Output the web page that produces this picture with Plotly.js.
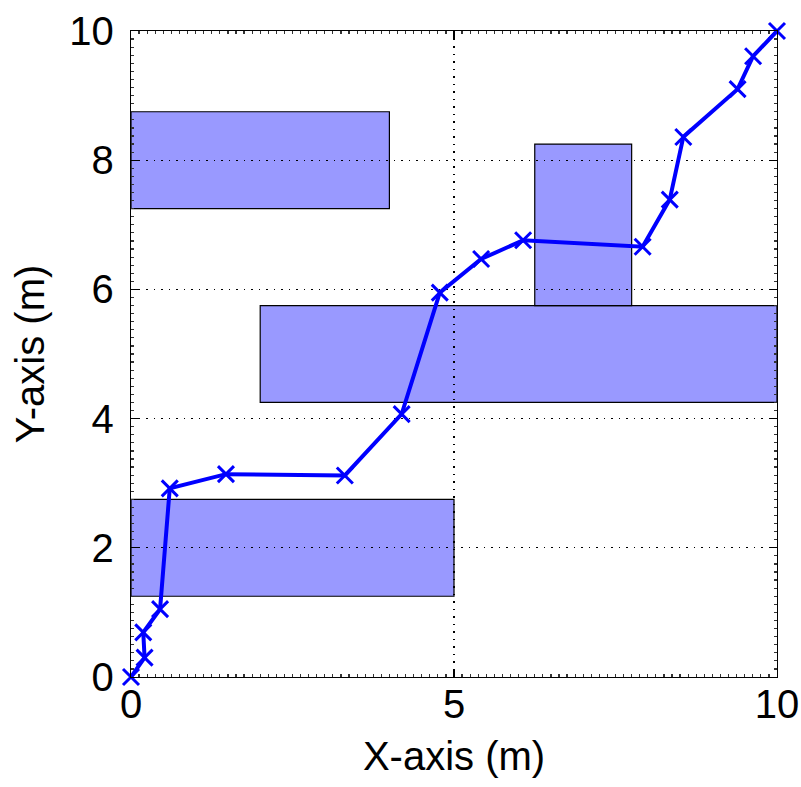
<!DOCTYPE html>
<html>
<head>
<meta charset="utf-8">
<script src="https://cdn.plot.ly/plotly-3.0.1.min.js"></script>
<style>html,body{margin:0;padding:0;background:#fff;}#chart{width:801px;height:787px;}</style>
</head>
<body>
<div id="chart"></div>
<script>
// Path waypoints
var pathX = [0, 0.21, 0.19, 0.45, 0.60, 1.47, 3.31, 4.19, 4.78, 5.42, 6.07, 7.92, 8.34, 8.55, 9.39, 9.63, 10];
var pathY = [0, 0.30, 0.69, 1.05, 2.92, 3.14, 3.12, 4.07, 5.95, 6.47, 6.76, 6.66, 7.39, 8.36, 9.10, 9.61, 10];

// Obstacles (rectangles)
var obsX0 = [0, 2, 6.25, 0];
var obsX1 = [4, 10, 7.75, 5];
var obsY0 = [7.25, 4.25, 5.75, 1.25];
var obsY1 = [8.75, 5.75, 8.25, 2.75];

// Tick values
var tickX = [0, 5, 10];
var tickY = [0, 2, 4, 6, 8, 10];

var shapes = obsX0.map(function (x0, i) {
  return {
    type: 'rect', xref: 'x', yref: 'y', layer: 'below',
    x0: x0, x1: obsX1[i], y0: obsY0[i], y1: obsY1[i],
    fillcolor: '#9999FF', line: {color: '#000000', width: 1.2}
  };
});

var trace = {
  x: pathX, y: pathY, type: 'scatter', mode: 'lines+markers',
  line: {color: '#0000FF', width: 4},
  marker: {symbol: 'x-thin', size: 16, color: '#0000FF', line: {color: '#0000FF', width: 3}},
  cliponaxis: false, showlegend: false, hoverinfo: 'none'
};

var fontFam = 'Liberation Sans, Arial, sans-serif';
var axisCommon = {
  showline: true, linecolor: '#000', linewidth: 1.2, mirror: 'all',
  ticks: 'inside', ticklen: 8, tickcolor: '#000', tickwidth: 1.2,
  showgrid: true, gridcolor: '#000', gridwidth: 1.2, griddash: '1.5px,6px',
  zeroline: false,
  minor: {ticks: 'inside', ticklen: 3, tickcolor: '#333', dtick: 0.125, showgrid: false},
  tickfont: {family: fontFam, size: 40, color: '#000'},
  fixedrange: true
};

var layout = {
  width: 801, height: 787,
  margin: {l: 131, r: 24, t: 31, b: 110},
  paper_bgcolor: '#fff', plot_bgcolor: '#fff',
  showlegend: false,
  shapes: shapes,
  xaxis: Object.assign({}, axisCommon, {
    range: [0, 10], tickvals: tickX, ticktext: tickX.map(String),
    ticklabelstandoff: -8,
    title: {text: 'X-axis (m)', font: {family: fontFam, size: 40, color: '#000'}, standoff: 16}
  }),
  yaxis: Object.assign({}, axisCommon, {
    range: [0, 10], tickvals: tickY, ticktext: tickY.map(String),
    ticklabelstandoff: 8,
    title: {text: 'Y-axis (m)', font: {family: fontFam, size: 40, color: '#000'}, standoff: 12}
  })
};

Plotly.newPlot('chart', [trace], layout, {displayModeBar: false, staticPlot: true});
</script>
</body>
</html>
